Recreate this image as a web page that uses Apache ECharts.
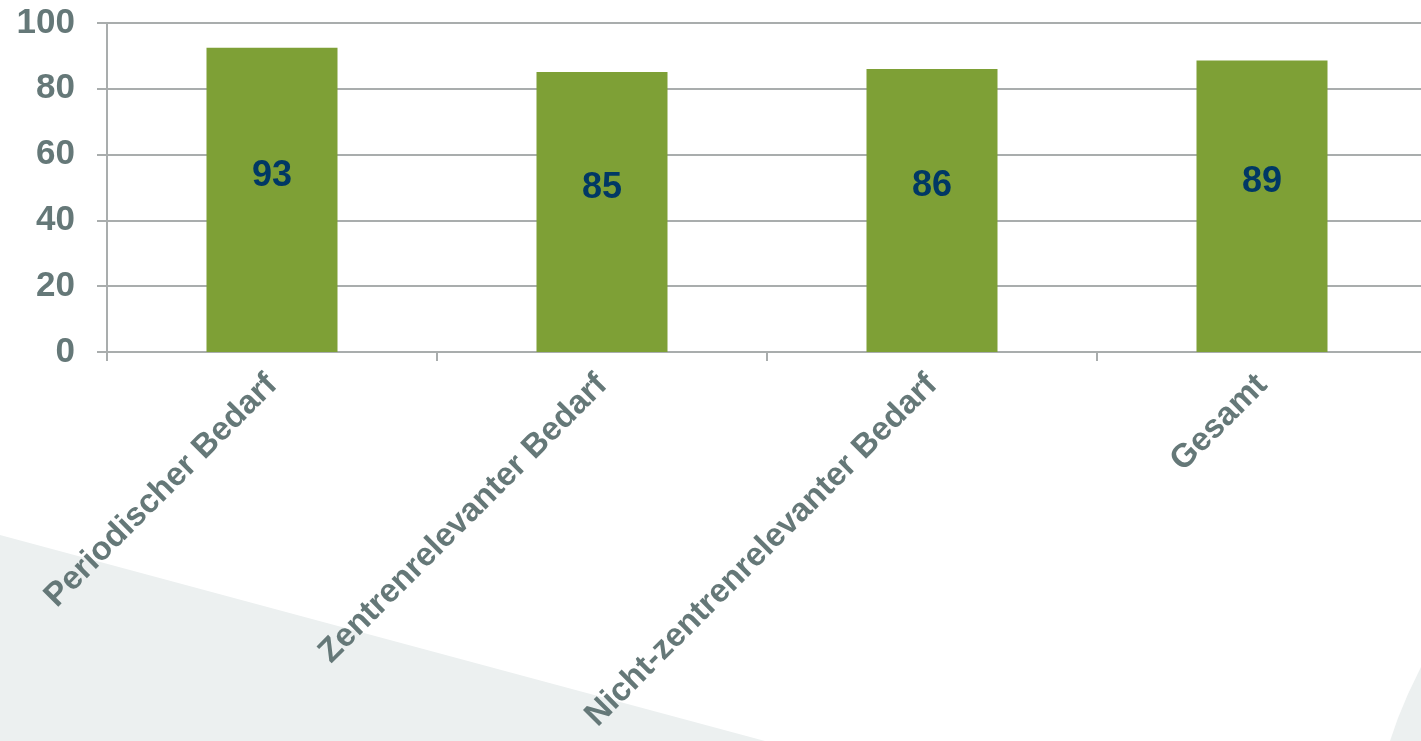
<!DOCTYPE html>
<html>
<head>
<meta charset="utf-8">
<script src="https://cdn.jsdelivr.net/npm/echarts@6/dist/echarts.min.js"></script>
<style>
  html, body { margin: 0; padding: 0; background: #fff; }
  #chart { width: 1421px; height: 741px; }
</style>
</head>
<body>
<div id="chart"></div>
<script>
// data
var categories = ['Periodischer Bedarf', 'Zentrenrelevanter Bedarf', 'Nicht-zentrenrelevanter Bedarf', 'Gesamt'];
var values = [92.5, 85.1, 86.0, 88.6];
var yTicks = [0, 20, 40, 60, 80, 100];

var dom = document.getElementById('chart');
var chart = echarts.init(dom);

var grey = '#657878';
var gridGrey = '#a9adad';

var option = {
    animation: false,
    backgroundColor: '#ffffff',
    textStyle: { fontFamily: '"Liberation Sans", Arial, sans-serif' },
    graphic: [
        {
            type: 'polygon',
            z: -10,
            silent: true,
            shape: { points: [[0, 535], [765, 741], [0, 741]] },
            style: { fill: '#ecf0f0' }
        },
        {
            type: 'polygon',
            z: -10,
            silent: true,
            shape: { points: [[1390, 741], [1398, 718], [1408, 694], [1421, 667], [1421, 741]] },
            style: { fill: '#ecf0f0' }
        }
    ],
    grid: {
        left: 107,
        width: 1320,
        top: 23,
        bottom: 389,
        containLabel: false,
        outerBoundsMode: 'none'
    },
    xAxis: {
        type: 'category',
        data: categories,
        axisLine: { lineStyle: { color: gridGrey, width: 2 } },
        axisTick: { show: true, length: 9, lineStyle: { color: gridGrey, width: 2 } },
        axisLabel: {
            rotate: 45,
            interval: 0,
            margin: 28,
            color: grey,
            fontWeight: 'bold',
            fontSize: 33,
            fontFamily: '"Liberation Sans", Arial, sans-serif'
        }
    },
    yAxis: {
        type: 'value',
        min: yTicks[0],
        max: yTicks[yTicks.length - 1],
        interval: 20,
        axisLine: { show: true, lineStyle: { color: gridGrey, width: 2 } },
        axisTick: { show: true, length: 10, lineStyle: { color: gridGrey, width: 2 } },
        splitLine: { lineStyle: { color: gridGrey, width: 2 } },
        axisLabel: {
            margin: 32,
            color: grey,
            fontWeight: 'bold',
            fontSize: 35,
            fontFamily: '"Liberation Sans", Arial, sans-serif'
        }
    },
    series: [{
        type: 'bar',
        data: values,
        barWidth: 131,
        itemStyle: { color: '#7ea036' },
        label: {
            show: true,
            position: 'inside',
            offset: [0, -24],
            color: '#003865',
            fontWeight: 'bold',
            fontSize: 36,
            fontFamily: '"Liberation Sans", Arial, sans-serif',
            formatter: function (p) {
                return Math.round(p.value);
            }
        }
    }]
};

chart.setOption(option);
</script>
</body>
</html>
